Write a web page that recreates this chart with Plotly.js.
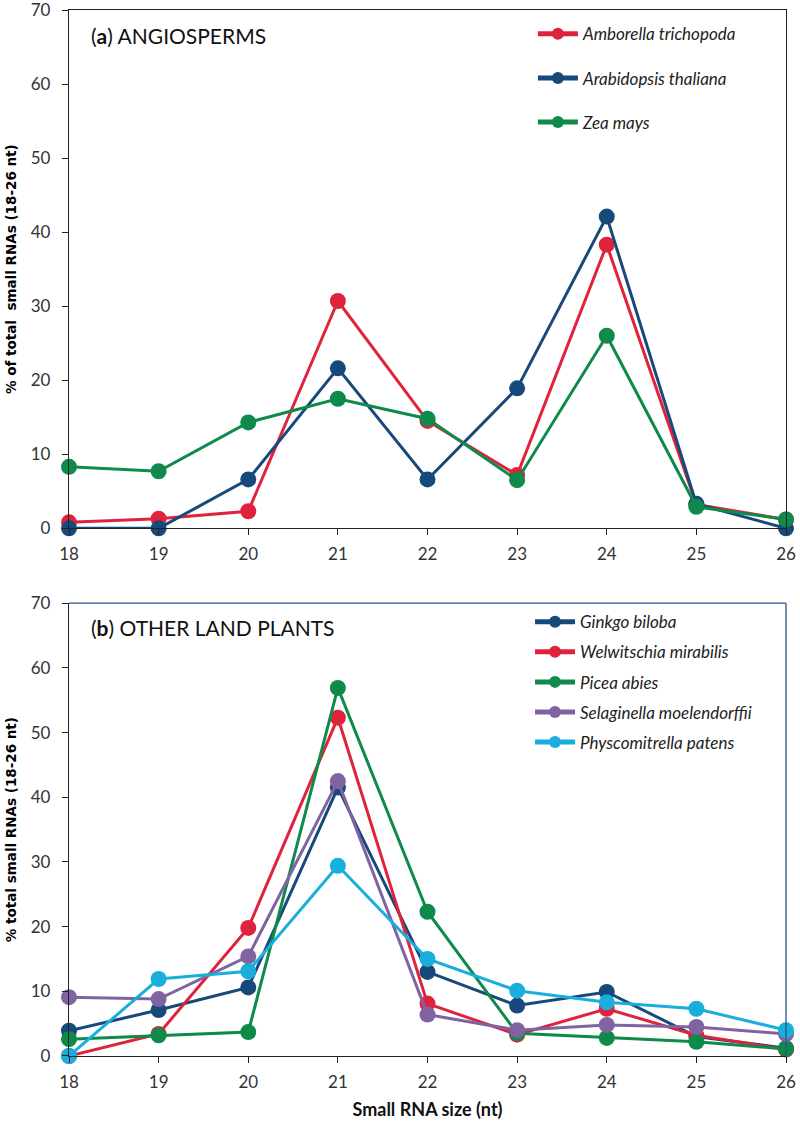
<!DOCTYPE html>
<html>
<head>
<meta charset="utf-8">
<script src="https://cdn.plot.ly/plotly-3.0.1.min.js"></script>
<style>
  html, body { margin: 0; padding: 0; background: #fff; }
  #chart { width: 800px; height: 1126px; }
</style>
</head>
<body>
<div id="chart"></div>
<script>
// small RNA size classes (nt)
const sizes = [18, 19, 20, 21, 22, 23, 24, 25, 26];

// (a) angiosperms
const amborella   = [0.8, 1.3, 2.3, 30.7, 14.5, 7.2, 38.3, 3.2, 1.2];
const arabidopsis = [0.0, 0.0, 6.6, 21.6, 6.6, 18.9, 42.1, 3.3, 0.0];
const zeaMays     = [8.3, 7.7, 14.3, 17.5, 14.8, 6.5, 26.0, 2.9, 1.2];

// (b) other land plants
const ginkgo         = [3.9, 7.1, 10.6, 41.5, 13.0, 7.8, 9.9, 3.0, 1.2];
const welwitschia    = [0.0, 3.4, 19.8, 52.3, 8.1, 3.3, 7.3, 3.2, 1.0];
const picea          = [2.6, 3.2, 3.7, 56.9, 22.3, 3.5, 2.8, 2.2, 1.1];
const selaginella    = [9.1, 8.8, 15.4, 42.5, 6.4, 4.0, 4.8, 4.5, 3.4];
const physcomitrella = [0.0, 11.9, 13.1, 29.4, 15.0, 10.1, 8.3, 7.3, 4.0];

const yTicks = [0, 10, 20, 30, 40, 50, 60, 70];

const RED = '#e0233c', NAVY = '#17497b', GREEN = '#0e8a4b',
      PURPLE = '#8064a2', CYAN = '#1aaedc';

function series(name, y, color, xa, ya, leg) {
  return {
    type: 'scatter', mode: 'lines+markers',
    x: sizes, y: y, xaxis: xa, yaxis: ya,
    name: '<i>' + name + '</i>', legend: leg, legendgroup: name,
    line: { color: color, width: 3 },
    marker: { color: color, size: 16 },
    cliponaxis: false, hoverinfo: 'x+y'
  };
}

const traces = [
  series('Amborella trichopoda', amborella, RED, 'x', 'y', 'legend'),
  series('Arabidopsis thaliana', arabidopsis, NAVY, 'x', 'y', 'legend'),
  series('Zea mays', zeaMays, GREEN, 'x', 'y', 'legend'),
  series('Ginkgo biloba', ginkgo, NAVY, 'x2', 'y2', 'legend2'),
  series('Welwitschia mirabilis', welwitschia, RED, 'x2', 'y2', 'legend2'),
  series('Picea abies', picea, GREEN, 'x2', 'y2', 'legend2'),
  series('Selaginella moelendorffii', selaginella, PURPLE, 'x2', 'y2', 'legend2'),
  series('Physcomitrella patens', physcomitrella, CYAN, 'x2', 'y2', 'legend2')
];

const tickFont = { family: 'Lato, sans-serif', size: 17, color: '#333' };
const yTitleFont = { family: '"DejaVu Sans", sans-serif', size: 13.5, color: '#000', weight: 'bold' };

function xAxis(anchor, domainColor) {
  return {
    anchor: anchor, range: [18, 26], tickvals: sizes,
    showgrid: false, zeroline: false,
    showline: true, linecolor: domainColor, linewidth: 1.3,
    ticks: 'outside', ticklen: 6, tickcolor: domainColor, tickwidth: 1.3,
    tickfont: tickFont, ticklabelstandoff: 4, ticklabeloverflow: 'allow'
  };
}
function yAxis(anchor, domain, title) {
  return {
    anchor: anchor, domain: domain, range: [0, 70], tickvals: yTicks,
    showgrid: false, zeroline: false,
    showline: true, linecolor: '#222', linewidth: 1.3,
    ticks: 'outside', ticklen: 6, tickcolor: '#222', tickwidth: 1.3,
    tickfont: tickFont, ticklabelstandoff: 8, ticklabeloverflow: 'allow',
    title: { text: title, font: yTitleFont, standoff: 10 }
  };
}

const xa1 = xAxis('y', '#222');
xa1.mirror = true;
const ya1 = yAxis('x', [0.5045, 1], '% of total  small RNAs (18-26 nt)');
ya1.mirror = true;

const xa2 = xAxis('y2', '#222');
xa2.title = { text: '<b>Small RNA size (nt)</b>', font: { family: 'Lato, sans-serif', size: 18, color: '#111' }, standoff: 12 };
const ya2 = yAxis('x2', [0, 0.4329], '% total small RNAs (18-26 nt)');

const legendFont = { family: 'Lato, sans-serif', size: 17, color: '#222' };

const layout = {
  width: 800, height: 1126,
  margin: { l: 69, r: 14, t: 9.5, b: 70 },
  paper_bgcolor: 'white', plot_bgcolor: 'white',
  showlegend: true,
  xaxis: xa1, yaxis: ya1, xaxis2: xa2, yaxis2: ya2,
  legend: {
    x: 0.647, y: 0.994, xanchor: 'left', yanchor: 'top',
    font: legendFont, bgcolor: 'rgba(0,0,0,0)',
    tracegroupgap: 19, itemsizing: 'constant', itemwidth: 40
  },
  legend2: {
    x: 0.643, y: 0.432, xanchor: 'left', yanchor: 'top',
    font: legendFont, bgcolor: 'rgba(0,0,0,0)',
    tracegroupgap: 5, itemsizing: 'constant', itemwidth: 40
  },
  shapes: [
    { type: 'line', xref: 'x2 domain', yref: 'y2 domain', x0: 0, x1: 1, y0: 1, y1: 1, line: { color: '#2a5584', width: 1.3 } },
    { type: 'line', xref: 'x2 domain', yref: 'y2 domain', x0: 1, x1: 1, y0: 0, y1: 1, line: { color: '#2a5584', width: 1.3 } }
  ],
  annotations: [
    { xref: 'x domain', yref: 'y domain', x: 0.028, y: 0.95, xanchor: 'left', yanchor: 'middle', showarrow: false,
      text: '(<b>a</b>) ANGIOSPERMS', font: { family: 'Lato, sans-serif', size: 21, color: '#111' } },
    { xref: 'x2 domain', yref: 'y2 domain', x: 0.028, y: 0.946, xanchor: 'left', yanchor: 'middle', showarrow: false,
      text: '(<b>b</b>) OTHER LAND PLANTS', font: { family: 'Lato, sans-serif', size: 21, color: '#111' } }
  ]
};

Plotly.newPlot('chart', traces, layout, { displayModeBar: false, responsive: false });
</script>
</body>
</html>
